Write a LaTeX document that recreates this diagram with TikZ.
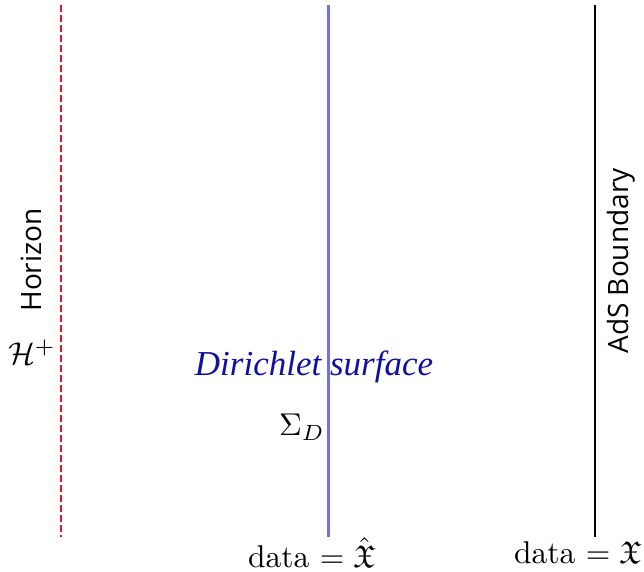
\documentclass[tikz,border=0pt]{standalone}
\usepackage{amsmath,amssymb}
\usepackage{fontspec}
\newfontfamily\labelsans{Open Sans}
\newfontfamily\surffont{Liberation Serif}
\definecolor{hred}{RGB}{232,16,42}
\definecolor{dblue}{RGB}{112,112,238}
\definecolor{tblue}{RGB}{16,16,160}
\begin{document}
\begin{tikzpicture}[x=1pt,y=-1pt,
  bigtext/.style={inner sep=0pt,font=\fontsize{10}{12}\selectfont,scale=3.15,transform shape},
  sanstext/.style={inner sep=0pt,font=\labelsans\fontsize{28}{32}\selectfont,rotate=90}]
\useasboundingbox (0,0) rectangle (644,571);
\coordinate (ht) at (61,5);
\coordinate (hb) at (61,537);
\coordinate (dt) at (328,5);
\coordinate (db) at (328,537);
\coordinate (at) at (595,5);
\coordinate (ab) at (595,537);
\draw[hred,line width=2pt,dash pattern=on 7pt off 3pt] (ht) -- (hb);
\draw[dblue,line width=3pt] (dt) -- (db);
\draw[black,line width=2pt] (at) -- (ab);
\node[sanstext] (hor) at (31,260) {Horizon};
\node[sanstext] (ads) at (621,261) {AdS Boundary};
\node[bigtext] (hplus) at (32,352) {$\mathcal{H}^+$};
\node[inner sep=0pt,font=\surffont\itshape\fontsize{35}{40}\selectfont,text=tblue] (dir) at (314,367) {Dirichlet surface};
\node[bigtext] (sig) at (302,427) {$\Sigma_D$};
\node[bigtext] (d1) at (312,553) {data $=\hat{\mathfrak{X}}$};
\node[bigtext] (d2) at (578,553) {data $=\mathfrak{X}$};
\end{tikzpicture}
\end{document}
